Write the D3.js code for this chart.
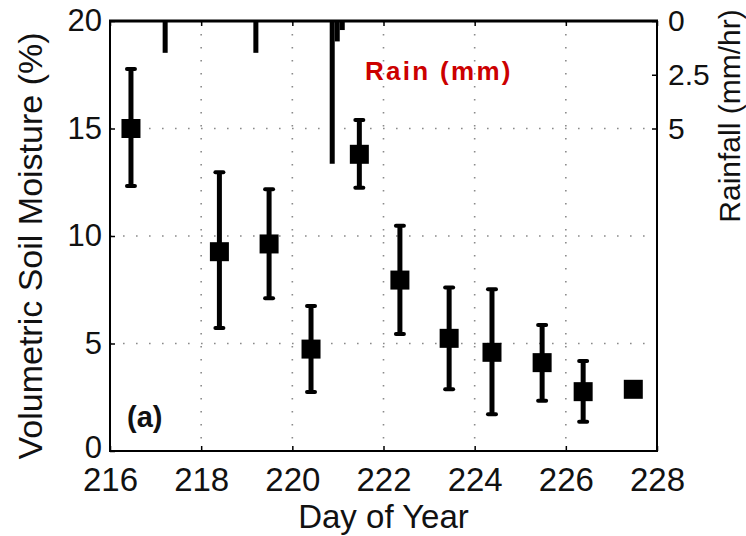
<html>
<head>
<script src="https://d3js.org/d3.v7.min.js"></script>
<style>
  body { margin: 0; background: #fff; }
  text { font-family: "Liberation Sans", Arial, Helvetica, sans-serif; fill: #111; }
</style>
</head>
<body>
<svg id="chart" width="746" height="536"></svg>
<script>
// soil moisture (left axis)
const days     = [216.46, 218.40, 219.49, 220.41, 221.47, 222.36, 223.44, 224.38, 225.48, 226.38, 227.48];
const moisture = [15.0, 9.27, 9.63, 4.74, 13.8, 7.95, 5.24, 4.59, 4.11, 2.76, 2.87];
const errHigh  = [17.77, 12.96, 12.17, 6.74, 15.4, 10.48, 7.61, 7.52, 5.86, 4.19, null];
const errLow   = [12.33, 5.72, 7.10, 2.74, 12.25, 5.44, 2.87, 1.71, 2.34, 1.36, null];

// rainfall (right axis, hanging from the top)
const rainDays = [217.21, 219.20, 220.875, 220.985, 221.095];
const rainRate = [1.48, 1.48, 6.64, 0.95, 0.42];

const dayTicks = [216, 218, 220, 222, 224, 226, 228];
const moistTicks = [0, 5, 10, 15, 20];
const rainTicks = [0, 2.5, 5];

const plotL = 110, plotR = 657, plotT = 21, plotB = 451;
const binWidth = 0.11;

const svg = d3.select("#chart");

const x = d3.scaleLinear().domain([216, 228]).range([plotL, plotR]);
const y = d3.scaleLinear().domain([0, 20]).range([plotB, plotT]);
const yRain = d3.scaleLinear().domain([0, 20]).range([plotT, plotB]);

// grid
const grid = svg.append("g").attr("stroke", "#8a8a8a").attr("stroke-width", 1.6)
    .attr("stroke-dasharray", "1.6,11.4");
grid.selectAll(".gx").data(dayTicks.slice(1, -1)).enter().append("line")
    .attr("x1", d => x(d)).attr("x2", d => x(d))
    .attr("y1", plotT).attr("y2", plotB);
grid.selectAll(".gy").data(moistTicks.slice(1, -1)).enter().append("line")
    .attr("x1", plotL).attr("x2", plotR)
    .attr("y1", d => y(d)).attr("y2", d => y(d));

// rain bars
const rain = rainDays.map((d, i) => ({day: d, rate: rainRate[i]}));
svg.append("g").selectAll("rect").data(rain).enter().append("rect")
    .attr("x", d => x(d.day - binWidth / 2))
    .attr("width", d => x(d.day + binWidth / 2) - x(d.day - binWidth / 2))
    .attr("y", yRain(0))
    .attr("height", d => yRain(d.rate) - yRain(0))
    .attr("fill", "#000");

// error bars + markers
const pts = days.map((d, i) => ({day: d, v: moisture[i], hi: errHigh[i], lo: errLow[i]}));
const withErr = pts.filter(d => d.hi != null);
const eb = svg.append("g").attr("stroke", "#000");
eb.selectAll(".stem").data(withErr).enter().append("line")
    .attr("stroke-width", 5)
    .attr("x1", d => x(d.day)).attr("x2", d => x(d.day))
    .attr("y1", d => y(d.hi)).attr("y2", d => y(d.lo));
eb.selectAll(".capH").data(withErr).enter().append("line")
    .attr("stroke-width", 4).attr("stroke-linecap", "round")
    .attr("x1", d => x(d.day) - 4).attr("x2", d => x(d.day) + 4)
    .attr("y1", d => y(d.hi)).attr("y2", d => y(d.hi));
eb.selectAll(".capL").data(withErr).enter().append("line")
    .attr("stroke-width", 4).attr("stroke-linecap", "round")
    .attr("x1", d => x(d.day) - 4).attr("x2", d => x(d.day) + 4)
    .attr("y1", d => y(d.lo)).attr("y2", d => y(d.lo));

const msize = 19;
svg.append("g").selectAll("rect").data(pts).enter().append("rect")
    .attr("x", d => x(d.day) - msize / 2)
    .attr("y", d => y(d.v) - msize / 2)
    .attr("width", msize).attr("height", msize)
    .attr("fill", "#000");

// axes (inward ticks, matlab style)
const axB = svg.append("g").attr("transform", "translate(0," + plotB + ")")
    .call(d3.axisBottom(x).tickValues(dayTicks).tickSizeInner(-5).tickSizeOuter(0).tickPadding(17));
const axT = svg.append("g").attr("transform", "translate(0," + plotT + ")")
    .call(d3.axisTop(x).tickValues(dayTicks).tickSizeInner(-5).tickSizeOuter(0).tickFormat(""));
const axL = svg.append("g").attr("transform", "translate(" + plotL + ",0)")
    .call(d3.axisLeft(y).tickValues(moistTicks).tickSizeInner(-5).tickSizeOuter(0).tickPadding(8));
const axR = svg.append("g").attr("transform", "translate(" + plotR + ",0)")
    .call(d3.axisRight(yRain).tickValues(rainTicks).tickFormat(d3.format("")).tickSizeInner(-5).tickSizeOuter(0).tickPadding(11));

[axB, axT, axL, axR].forEach(a => {
    a.select(".domain").remove();
    a.selectAll("line").attr("stroke", "#000").attr("stroke-width", 1.5);
    a.selectAll("text").attr("font-family", "Liberation Sans, Arial, sans-serif").attr("fill", "#111");
});
axB.selectAll("text").attr("font-size", 33);
axL.selectAll("text").attr("font-size", 31);
axR.selectAll("text").attr("font-size", 30);
// lift the "0" a little so it sits above the "216" as in the original
axL.selectAll(".tick").filter(d => d === 0).select("text").attr("dy", "0.2em");

// frame
svg.append("path")
    .attr("d", "M" + plotL + "," + plotT + "V" + plotB + "H" + plotR + "V" + plotT)
    .attr("fill", "none").attr("stroke", "#000").attr("stroke-width", 2);
svg.append("line")
    .attr("x1", plotL - 1).attr("x2", plotR + 1).attr("y1", plotT).attr("y2", plotT)
    .attr("stroke", "#000").attr("stroke-width", 3);

// labels
svg.append("text")
    .attr("transform", "translate(42," + ((plotT + plotB) / 2 + 10) + ") rotate(-90)")
    .attr("text-anchor", "middle").attr("font-size", 34)
    .text("Volumetric Soil Moisture (%)");
svg.append("text")
    .attr("transform", "translate(740,116) rotate(-90)")
    .attr("text-anchor", "middle").attr("font-size", 30)
    .text("Rainfall (mm/hr)");
svg.append("text")
    .attr("x", (plotL + plotR) / 2).attr("y", 528)
    .attr("text-anchor", "middle").attr("font-size", 33)
    .text("Day of Year");
svg.append("text")
    .attr("x", 127).attr("y", 427)
    .attr("font-size", 29).attr("font-weight", "bold")
    .text("(a)");
svg.append("text")
    .attr("x", 365).attr("y", 80)
    .attr("font-family", "DejaVu Sans, Verdana, sans-serif")
    .attr("font-size", 26).attr("font-weight", "bold").attr("letter-spacing", 2.3)
    .style("fill", "#cc0000")
    .text("Rain (mm)");
</script>
</body>
</html>
